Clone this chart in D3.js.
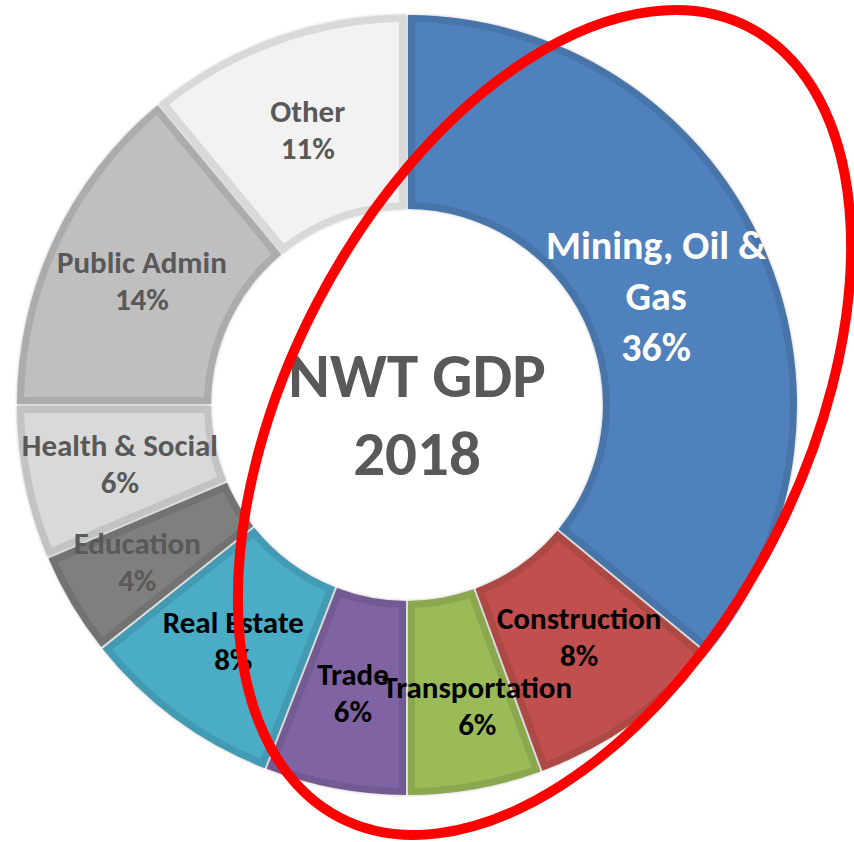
<!DOCTYPE html>
<html>
<head>
<meta charset="utf-8">
<script src="https://cdn.jsdelivr.net/npm/d3@7"></script>
<style>
  body { margin: 0; background: #fff; }
  svg text { font-family: Carlito, Calibri, Lato, "Open Sans", sans-serif; font-weight: bold; }
</style>
</head>
<body>
<div id="chart"></div>
<script>
// Sector shares of NWT GDP, 2018 (clockwise from 12 o'clock)
const categories = ['Mining, Oil & Gas', 'Construction', 'Transportation', 'Trade', 'Real Estate',
                    'Education', 'Health & Social', 'Public Admin', 'Other'];
const shares = [36.0, 8.4, 5.6, 5.9, 8.4, 4.3, 6.4, 14.0, 11.0];
const titleLines = ['NWT GDP', '2018'];

const fills = ['#4F81BD', '#C0504D', '#9BBB59', '#8064A2', '#4BACC6',
               '#7F7F7F', '#D9D9D9', '#BFBFBF', '#F2F2F2'];
const labelColors = ['#FFFFFF', '#000000', '#000000', '#000000', '#000000',
                     '#595959', '#595959', '#595959', '#595959'];

// small label nudges where the label sits off the slice centroid
const nudge = {
    'Mining, Oil & Gas': [-16, 16],
    'Construction': [3, -8],
    'Transportation': [19, 12],
    'Education': [-18, 7]
};

const width = 854, height = 842;
const cx = 407, cy = 405;
const outerR = 390, innerR = 196, border = 7, gap = 2, padR = 300;

const svg = d3.select('#chart')
    .append('svg')
    .attr('width', width)
    .attr('height', height);

const defs = svg.append('defs');
defs.append('filter')
    .attr('id', 'glow')
    .attr('x', '-10%').attr('y', '-10%').attr('width', '120%').attr('height', '120%')
    .append('feDropShadow')
    .attr('dx', 0).attr('dy', 0)
    .attr('stdDeviation', 1.6)
    .attr('flood-color', '#8c8c8c')
    .attr('flood-opacity', 0.6);

const g = svg.append('g').attr('transform', `translate(${cx},${cy})`);

const data = categories.map((c, i) => ({ name: c, value: shares[i], i: i }));

const pie = d3.pie()
    .value(d => d.value)
    .sort(null);

const arcs = pie(data);

// outer shape (border colour) and inset fill
const borderArc = d3.arc()
    .innerRadius(innerR)
    .outerRadius(outerR)
    .padRadius(padR)
    .padAngle(gap / padR);

const fillArc = d3.arc()
    .innerRadius(innerR + border)
    .outerRadius(outerR - border)
    .padRadius(padR)
    .padAngle((gap + 2 * border) / padR);

const labelArc = d3.arc()
    .innerRadius((innerR + outerR) / 2)
    .outerRadius((innerR + outerR) / 2);

const slices = g.append('g')
    .attr('filter', 'url(#glow)')
    .selectAll('g.slice')
    .data(arcs)
    .enter()
    .append('g')
    .attr('class', 'slice');

slices.append('path')
    .attr('d', borderArc)
    .style('fill', d => d3.color(fills[d.data.i]).darker(0.3));

slices.append('path')
    .attr('d', fillArc)
    .style('fill', d => fills[d.data.i]);

// data labels
const bigSize = 40, smallSize = 31;
const labels = g.append('g')
    .selectAll('text')
    .data(arcs)
    .enter()
    .append('text')
    .attr('text-anchor', 'middle')
    .style('fill', d => labelColors[d.data.i])
    .style('font-size', d => (d.data.value > 20 ? bigSize : smallSize) + 'px')
    .each(function(d) {
        const text = d3.select(this);
        const big = d.data.value > 20;
        const fs = big ? bigSize : smallSize;
        const lh = big ? 51 : 37;
        const maxW = 250;
        // wrap name into lines
        const words = d.data.name.split(/\s+/);
        const lines = [];
        let line = [];
        const probe = text.append('tspan');
        words.forEach(w => {
            line.push(w);
            probe.text(line.join(' '));
            if (probe.node().getComputedTextLength() > maxW && line.length > 1) {
                line.pop();
                lines.push(line.join(' '));
                line = [w];
            }
        });
        lines.push(line.join(' '));
        probe.remove();
        lines.push(Math.round(d.data.value) + '%');

        const c = labelArc.centroid(d);
        const off = nudge[d.data.name] || [0, 0];
        const x = c[0] + off[0];
        const capH = fs * 0.7;
        const y0 = c[1] + off[1] - ((lines.length - 1) * lh + capH) / 2 + capH;
        lines.forEach((l, k) => {
            text.append('tspan')
                .attr('x', x)
                .attr('y', y0 + k * lh)
                .text(l);
        });
    });

// centre title
const titleSize = 63;
g.append('text')
    .attr('text-anchor', 'middle')
    .style('fill', '#595959')
    .style('font-size', titleSize + 'px')
    .selectAll('tspan')
    .data(titleLines)
    .enter()
    .append('tspan')
    .attr('x', 10)
    .attr('y', (d, i) => -8 + i * 78)
    .text(d => d);

// red annotation ellipse
svg.append('ellipse')
    .attr('transform', 'translate(544.5,422.5) rotate(27.4)')
    .attr('rx', 257)
    .attr('ry', 445)
    .style('fill', 'none')
    .style('stroke', '#FF0000')
    .style('stroke-width', 10);
</script>
</body>
</html>
